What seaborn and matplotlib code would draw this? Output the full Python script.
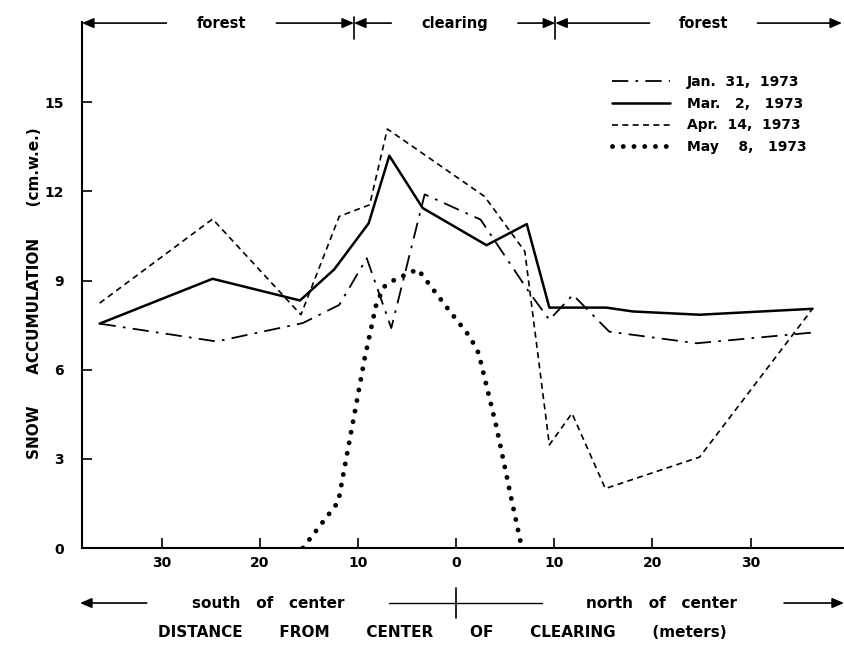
import matplotlib
matplotlib.use("Agg")
import matplotlib.pyplot as plt
import pandas as pd
import seaborn as sns

# distance from clearing centre in metres (south negative), snow in cm w.e.
jan_x = [-36.3, -24.4, -15.6, -11.9, -9.1, -6.6, -3.2, 2.5, 7.5, 9.5, 11.9, 14.4, 15.6, 24.5, 36.3]
jan_y = [7.55, 6.95, 7.57, 8.18, 9.75, 7.40, 11.9, 11.05, 8.58, 7.68, 8.52, 7.68, 7.28, 6.89, 7.25]

mar_x = [-36.3, -24.8, -15.9, -12.4, -8.9, -6.8, -3.4, 3.1, 7.2, 9.5, 15.3, 18.0, 24.8, 36.3]
mar_y = [7.55, 9.06, 8.33, 9.38, 10.93, 13.2, 11.44, 10.19, 10.9, 8.09, 8.09, 7.96, 7.85, 8.05]

apr_x = [-36.3, -24.8, -15.8, -11.9, -8.8, -7.0, -3.5, 2.9, 7.0, 9.5, 11.8, 15.2, 24.8, 36.3]
apr_y = [8.24, 11.07, 7.85, 11.16, 11.55, 14.1, 13.3, 11.83, 9.98, 3.47, 4.53, 2.0, 3.06, 8.05]

may_x = [-15.6, -12.0, -9.3, -8.1, -7.3, -6.3, -3.9, -1.0, 1.4, 2.3, 4.1, 5.8, 6.7]
may_y = [0.0, 1.55, 6.4, 8.24, 8.8, 9.02, 9.38, 8.12, 7.11, 6.55, 4.09, 1.39, 0.0]

dates = ["Jan.  31,  1973", "Mar.   2,   1973", "Apr.  14,  1973", "May    8,   1973"]
tick_pos = [-30, -20, -10, 0, 10, 20, 30]
tick_lab = ["30", "20", "10", "0", "10", "20", "30"]
y_ticks = [0, 3, 6, 9, 12, 15]

edge_south = -10.4
edge_north = 10.1

sns.set_theme(style="ticks")
plt.rcParams["font.family"] = ["DejaVu Sans"]
plt.rcParams["font.weight"] = "bold"
plt.rcParams["font.size"] = 10
plt.rcParams["text.color"] = "black"
plt.rcParams["axes.labelcolor"] = "black"

fig = plt.figure(figsize=(8.45, 6.46), dpi=100)
ax = fig.add_axes([0.097, 0.1517, 0.9006, 0.8142])

series = [
    (jan_x, jan_y, dict(linestyle=(0, (9, 4, 1.5, 4)), linewidth=1.3)),
    (mar_x, mar_y, dict(linestyle="-", linewidth=1.8)),
    (apr_x, apr_y, dict(linestyle=(0, (3.6, 2.6)), linewidth=1.2)),
    (may_x, may_y, dict(linestyle=(0, (0.01, 2.2)), linewidth=3.5, dash_capstyle="round")),
]
for (xs, ys, style), name in zip(series, dates):
    df = pd.DataFrame({"dist": xs, "snow": ys})
    sns.lineplot(data=df, x="dist", y="snow", ax=ax, color="black",
                 estimator=None, sort=False, label=name, **style)

ax.set_xlim(-38.1, 39.4)
ax.set_ylim(0, 17.7)
ax.set_xticks(tick_pos)
ax.set_xticklabels(tick_lab)
ax.set_yticks(y_ticks)
ax.tick_params(direction="in", length=7, width=1.2, colors="black", labelsize=10)
ax.tick_params(axis="y", pad=13)
ax.tick_params(axis="x", pad=6)
sns.despine(ax=ax)
for s in ["left", "bottom"]:
    ax.spines[s].set_linewidth(1.5)
    ax.spines[s].set_color("black")
ax.set_xlabel("")
ax.set_ylabel("SNOW      ACCUMULATION      (cm.w.e.)", fontsize=11, fontweight="bold")
ax.yaxis.set_label_coords(-0.053, 0.485)

ax.legend(loc="upper left", bbox_to_anchor=(0.696, 0.899), frameon=False,
          handlelength=4.2, handletextpad=1.2, labelspacing=0.55,
          borderpad=0, borderaxespad=0, prop={"weight": "bold", "size": 10})

# top band: forest / clearing / forest
tr = ax.get_xaxis_transform()
arw = dict(arrowstyle="-|>,head_length=0.7,head_width=0.3", color="black",
           lw=1.2, shrinkA=0, shrinkB=0, mutation_scale=10)


def arrow(x0, x1, y):
    ax.annotate("", xy=(x1, y), xytext=(x0, y), xycoords=tr, textcoords=tr,
                arrowprops=arw, annotation_clip=False)


def tick(x, y0, y1):
    ax.plot([x, x], [y0, y1], transform=tr, color="black", lw=1.2, clip_on=False)


ytop = 0.998
arrow(-29.5, -38.1, ytop)
ax.text(-23.9, ytop, "forest", transform=tr, ha="center", va="center", fontsize=10.5)
arrow(-18.3, edge_south, ytop)
tick(edge_south, 0.968, 1.01)
arrow(-6.6, edge_south, ytop)
ax.text(-0.15, ytop, "clearing", transform=tr, ha="center", va="center", fontsize=10.5)
arrow(6.3, edge_north, ytop)
tick(edge_north, 0.968, 1.01)
arrow(19.7, edge_north, ytop)
ax.text(25.2, ytop, "forest", transform=tr, ha="center", va="center", fontsize=10.5)
arrow(30.7, 39.3, ytop)

# bottom band: south / north of center
ybot = -0.1046
arrow(-31.5, -38.3, ybot)
ax.text(-19.1, ybot, "south   of   center", transform=tr, ha="center", va="center", fontsize=11)
ax.plot([-6.8, 8.7], [ybot, ybot], transform=tr, color="black", lw=1.0, clip_on=False)
tick(0, -0.076, -0.133)
ax.text(20.9, ybot, "north   of   center", transform=tr, ha="center", va="center", fontsize=11)
arrow(33.4, 39.5, ybot)

ax.text(-1.4, -0.16, "DISTANCE       FROM       CENTER       OF       CLEARING       (meters)",
        transform=tr, ha="center", va="center", fontsize=11)

fig.savefig("out.png", dpi=100, facecolor="white")
